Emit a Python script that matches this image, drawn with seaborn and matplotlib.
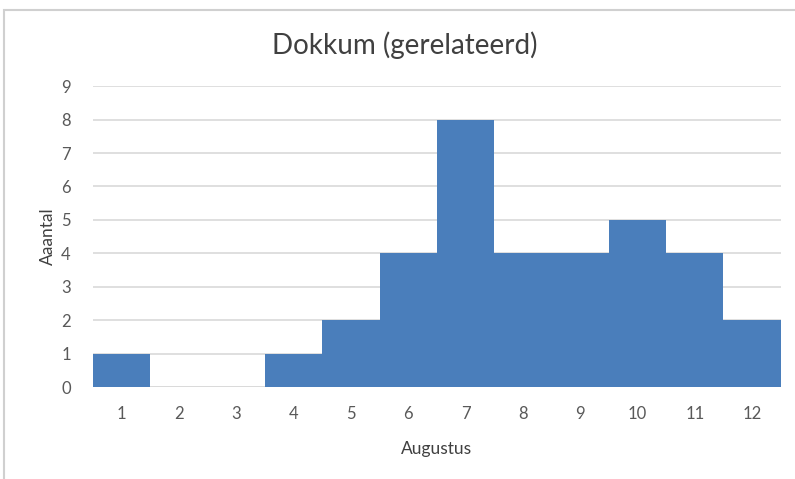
import matplotlib
matplotlib.use("Agg")
import matplotlib.pyplot as plt
import seaborn as sns
import pandas as pd
from matplotlib.patches import Rectangle

# data
dagen = ["1", "2", "3", "4", "5", "6", "7", "8", "9", "10", "11", "12"]
aantal = [1, 0, 0, 1, 2, 4, 8, 4, 4, 5, 4, 2]
y_ticks = list(range(0, 10))

df = pd.DataFrame({"Augustus": dagen, "Aantal": aantal})

sns.set_theme(style="white")
plt.rcParams["font.family"] = ["Lato", "DejaVu Sans"]

fig = plt.figure(figsize=(7.95, 4.79), dpi=100)
ax = fig.add_axes([0.117, 0.192, 0.865, 0.628])

sns.barplot(data=df, x="Augustus", y="Aantal", color="#4a7ebb", width=1.0,
            saturation=1, edgecolor="none", linewidth=0, ax=ax, zorder=3)

ax.set_ylim(0, 9)
ax.set_xlim(-0.5, len(dagen) - 0.5)
ax.set_yticks(y_ticks)
ax.yaxis.grid(True, color="#d9d9d9", linewidth=1.2, zorder=0)
ax.set_axisbelow(True)
for s in ax.spines.values():
    s.set_visible(False)
ax.axhline(0, color="#d9d9d9", linewidth=1.2, zorder=1)

ax.tick_params(axis="both", length=0, labelsize=12, labelcolor="#595959")
ax.tick_params(axis="x", pad=14)
ax.tick_params(axis="y", pad=16)

fig.text(0.509, 0.906, "Dokkum (gerelateerd)", fontsize=20, color="#404040",
         ha="center", va="center")
ax.set_xlabel("Augustus", fontsize=12.5, color="#404040", labelpad=13)
ax.set_ylabel("Aaantal", fontsize=12.5, color="#404040", labelpad=4)

# light frame of the chart area
fig.patches.append(Rectangle((0.005, -0.1), 1.1, 0.08 + 1.0, transform=fig.transFigure,
                             fill=False, edgecolor="#d0d0d0", linewidth=1.5))

fig.savefig("out.png", dpi=100)
